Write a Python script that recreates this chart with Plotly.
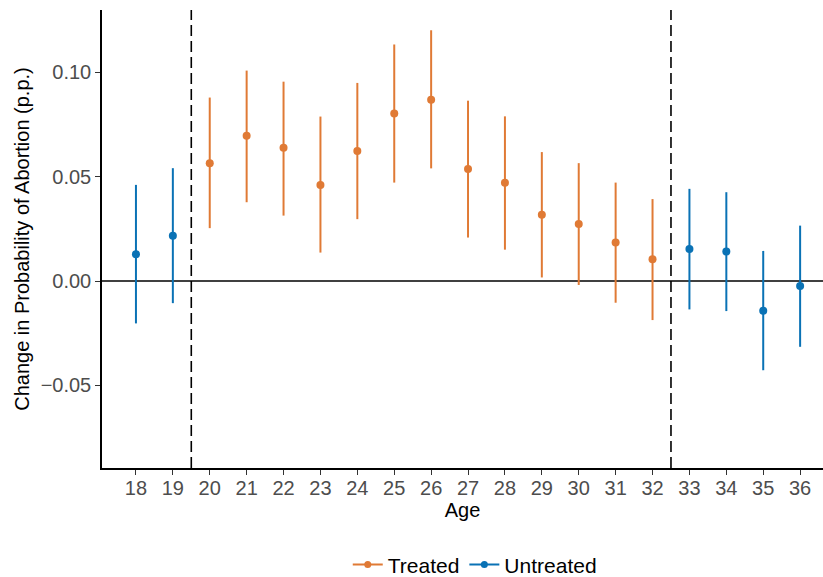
import plotly.graph_objects as go

# ---- data ----
ages_untreated = [18, 19, 33, 34, 35, 36]
est_untreated = [0.0128, 0.0217, 0.0153, 0.0141, -0.0142, -0.0024]
lo_untreated = [-0.0203, -0.0106, -0.0136, -0.0144, -0.0427, -0.0315]
hi_untreated = [0.0460, 0.0540, 0.0441, 0.0425, 0.0144, 0.0265]

ages_treated = [20, 21, 22, 23, 24, 25, 26, 27, 28, 29, 30, 31, 32]
est_treated = [0.0564, 0.0695, 0.0638, 0.0460, 0.0622, 0.0802, 0.0868, 0.0536, 0.0470, 0.0317, 0.0273, 0.0184, 0.0104]
lo_treated = [0.0253, 0.0377, 0.0313, 0.0136, 0.0296, 0.0471, 0.0539, 0.0208, 0.0150, 0.0017, -0.0019, -0.0104, -0.0187]
hi_treated = [0.0878, 0.1007, 0.0954, 0.0787, 0.0948, 0.1132, 0.1200, 0.0863, 0.0788, 0.0617, 0.0564, 0.0471, 0.0392]

cutoffs = [19.5, 32.5]
x_ticks = list(range(18, 37))
y_ticks = [-0.05, 0.0, 0.05, 0.10]
y_tick_labels = ["\u22120.05", "0.00", "0.05", "0.10"]

ORANGE = "#E07A35"
BLUE = "#0A72B5"
FONT = "Liberation Sans, Arial, sans-serif"

fig = go.Figure()


def add_series(name, xs, est, lo, hi, color):
    plus = [h - e for h, e in zip(hi, est)]
    minus = [e - l for e, l in zip(est, lo)]
    fig.add_trace(go.Scatter(
        x=xs, y=est, mode="markers", name=name, showlegend=False,
        marker=dict(color=color, size=8),
        error_y=dict(type="data", symmetric=False, array=plus, arrayminus=minus,
                     color=color, thickness=2, width=0),
    ))
    fig.add_trace(go.Scatter(
        x=[None], y=[None], mode="lines+markers", name=name,
        marker=dict(color=color, size=7), line=dict(color=color, width=2),
    ))


add_series("Treated", ages_treated, est_treated, lo_treated, hi_treated, ORANGE)
add_series("Untreated", ages_untreated, est_untreated, lo_untreated, hi_untreated, BLUE)

for c in cutoffs:
    fig.add_shape(type="line", xref="x", yref="paper", x0=c, x1=c, y0=0, y1=1,
                  line=dict(color="black", width=1.6, dash="11px,5px"), layer="below")
fig.add_shape(type="line", xref="paper", yref="y", x0=0, x1=1, y0=0, y1=0,
              line=dict(color="black", width=1.6), layer="below")

fig.update_layout(
    width=823, height=577,
    margin=dict(l=102, r=0, t=10, b=109, autoexpand=False),
    paper_bgcolor="white", plot_bgcolor="white",
    font=dict(family=FONT, size=20, color="black"),
    legend=dict(orientation="h", x=0.517, xanchor="center",
                yref="container", y=0.021, yanchor="middle",
                font=dict(size=21, color="black"), itemwidth=30, traceorder="normal"),
    xaxis=dict(
        range=[17.08, 36.62], tickmode="array", tickvals=x_ticks,
        ticks="outside", ticklen=5, tickwidth=1.2, tickcolor="#333333",
        showline=True, linecolor="black", linewidth=1.5, showgrid=False, zeroline=False,
        tickfont=dict(size=20, color="#4D4D4D"), automargin=False, ticklabelstandoff=-4,
        title=dict(text="Age", font=dict(size=20, color="black"), standoff=3),
    ),
    yaxis=dict(
        range=[-0.0895, 0.1297], tickmode="array", tickvals=y_ticks, ticktext=y_tick_labels,
        ticks="outside", ticklen=5, tickwidth=1.2, tickcolor="#333333",
        showline=True, linecolor="black", linewidth=1.5, showgrid=False, zeroline=False,
        tickfont=dict(size=20, color="#4D4D4D"), automargin=False,
        title=dict(text="Change in Probability of Abortion (p.p.)",
                   font=dict(size=20, color="black"), standoff=6),
    ),
)

fig.write_html("out.html")
